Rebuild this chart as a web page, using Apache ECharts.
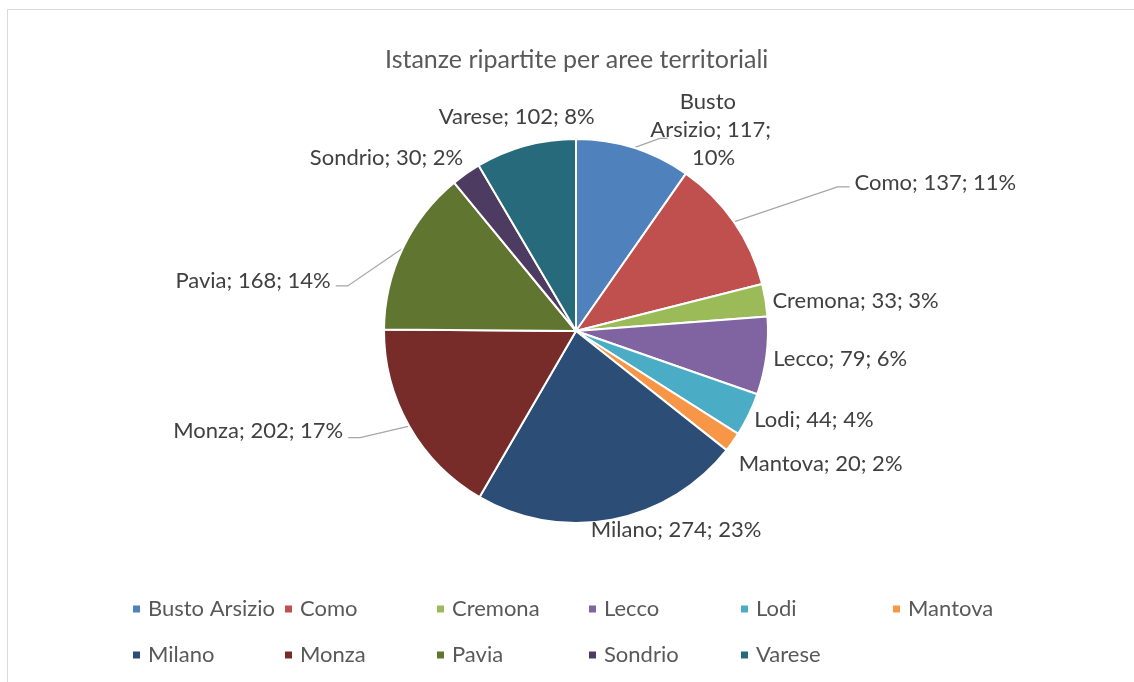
<!DOCTYPE html>
<html>
<head>
<meta charset="utf-8">
<script src="https://cdn.jsdelivr.net/npm/echarts@6/dist/echarts.min.js"></script>
<style>
html,body{margin:0;padding:0;background:#fff;}
#chart{width:1134px;height:682px;}
</style>
</head>
<body>
<div id="chart"></div>
<script>
const titleText = 'Istanze ripartite per aree territoriali';
const categories = ['Busto Arsizio','Como','Cremona','Lecco','Lodi','Mantova','Milano','Monza','Pavia','Sondrio','Varese'];
const values = [117,137,33,79,44,20,274,202,168,30,102];
const colors = ['#4F81BD','#C0504D','#9BBB59','#8064A2','#4BACC6','#F79646','#2C4D75','#772C2A','#5F7530','#4D3B62','#276A7C'];

// per-slice label line styling (presentation only)
const lineStyle = [
  {show:true, length:12, length2:8},
  {show:true, length:65, length2:55},
  {show:false, length:5, length2:0},
  {show:false, length:5, length2:0},
  {show:false, length:5, length2:0},
  {show:false, length:5, length2:0},
  {show:false, length:5, length2:0},
  {show:true, length:15, length2:48},
  {show:true, length:10, length2:50},
  {show:false, length:12, length2:0},
  {show:false, length:30, length2:0}
];
// label nudges relative to default placement, and leader end offsets (presentation only)
const labelNudge = {
  0:{align:'center', dx:-2, dy:-6, lead:{ex:-43, ey:8, bend:-8}},
  1:{dx:7, dy:-2, lead:{ex:-5, ey:4, bend:-12}},
  2:{dx:-3, dy:2},
  3:{dx:-3, dy:2},
  4:{dx:-4, dy:3},
  5:{dx:-3, dy:19},
  6:{dx:-27, dy:5},
  7:{dx:0, dy:-3, lead:{ex:5, ey:7, bend:12}},
  8:{dx:-8, dy:37, lead:{ex:5, ey:5, bend:12}},
  9:{dx:9, dy:-6},
  10:{dx:82, dy:0}
};

const FONT = 'Lato';
const data = categories.map((name,i)=>{
  const d = {name, value: values[i], itemStyle:{color: colors[i]}, labelLine: lineStyle[i]};
  if (i === 0) d.label = {width:125, overflow:'break', lineHeight:28};
  return d;
});

const chart = echarts.init(document.getElementById('chart'));
chart.setOption({
  animation:false,
  title:{text:titleText,left:380,top:42,textStyle:{fontFamily:FONT,fontSize:25,fontWeight:'normal',color:'#595959'}},
  graphic:[{type:'rect',shape:{x:7.5,y:9.5,width:1200,height:800},style:{fill:null,stroke:'#d9d9d9',lineWidth:1},silent:true}],
  legend:{
    left:126, top:581, width:930,
    itemWidth:9, itemHeight:9, itemGap:0,
    icon:'rect',
    data:categories,
    textStyle:{fontFamily:FONT,fontSize:22,color:'#595959',width:135,lineHeight:46,padding:[0,0,0,2]}
  },
  series:[{
    type:'pie',
    center:[576,331], radius:192,
    startAngle:90, clockwise:true,
    percentPrecision:0,
    avoidLabelOverlap:false,
    itemStyle:{borderColor:'#fff',borderWidth:2},
    label:{show:true,position:'outside',formatter:'{b}; {c}; {d}%',fontFamily:FONT,fontSize:22,lineHeight:26,color:'#404040'},
    labelLine:{lineStyle:{color:'#a6a6a6',width:1.2},smooth:false},
    labelLayout:function(p){
      const n = labelNudge[p.dataIndex];
      if(!n) return {};
      const r = p.labelRect;
      const align = n.align || p.align;
      const ax = align==='left' ? r.x : (align==='right' ? r.x + r.width : r.x + r.width/2);
      const x = ax + n.dx, y = r.y + r.height/2 + n.dy;
      const out = {x, y};
      if (n.align) out.align = n.align;
      if (n.lead && p.labelLinePoints) {
        const start = p.labelLinePoints[0];
        const end = [x + n.lead.ex, y + n.lead.ey];
        const bend = [end[0] + n.lead.bend, end[1]];
        out.labelLinePoints = [start, bend, end];
      }
      return out;
    },
    emphasis:{disabled:true},
    data
  }]
});
</script>
</body>
</html>
